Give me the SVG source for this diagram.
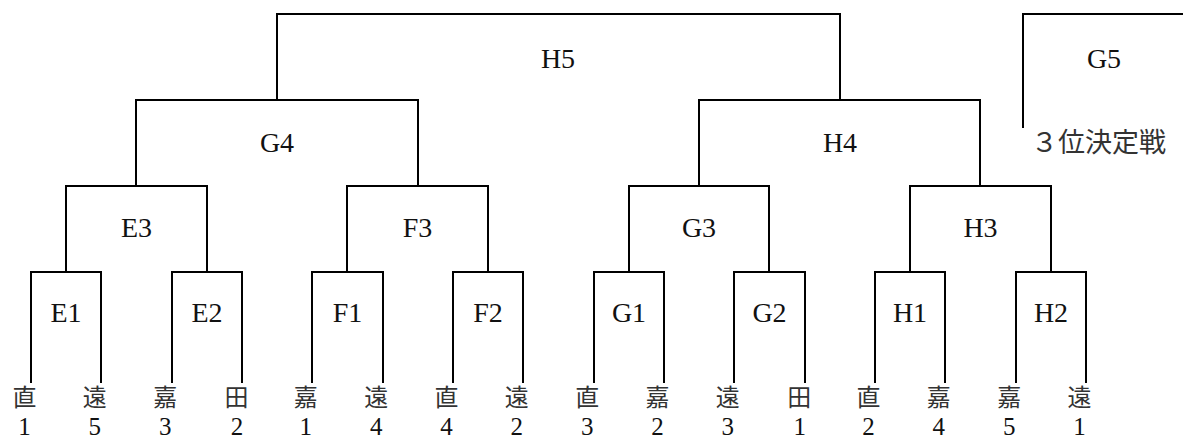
<svg xmlns="http://www.w3.org/2000/svg" width="1183" height="439" viewBox="0 0 1183 439">
<style>
.ln{fill:none;stroke:#000;stroke-width:2;stroke-linejoin:miter}
.lb{font-size:28px;fill:#111;text-anchor:middle}
.kj{font-size:24px;fill:#333;text-anchor:middle}
.nm{font-size:25px;fill:#111;text-anchor:middle}
.tp{font-size:27px;fill:#333}
</style>
<rect width="1183" height="439" fill="#fff"/>
<g id="connectors">
<path class="ln" d="M31 383 V272 H101 V383"/>
<path class="ln" d="M172 383 V272 H242 V383"/>
<path class="ln" d="M312 383 V272 H383 V383"/>
<path class="ln" d="M453 383 V272 H523 V383"/>
<path class="ln" d="M594 383 V272 H664 V383"/>
<path class="ln" d="M734 383 V272 H805 V383"/>
<path class="ln" d="M875 383 V272 H945 V383"/>
<path class="ln" d="M1016 383 V272 H1086 V383"/>
<path class="ln" d="M66 272 V186 H207 V272"/>
<path class="ln" d="M347 272 V186 H488 V272"/>
<path class="ln" d="M629 272 V186 H769 V272"/>
<path class="ln" d="M910 272 V186 H1051 V272"/>
<path class="ln" d="M136 186 V100 H418 V186"/>
<path class="ln" d="M699 186 V100 H980 V186"/>
<path class="ln" d="M277 100 V14 H840 V100"/>
<path class="ln" d="M1023 128 V14 H1184"/>
</g>
<g font-family="Liberation Serif, DejaVu Serif, serif">
<g id="node-H5"><text class="lb" x="558" y="68">H5</text></g>
<g id="node-G5"><text class="lb" x="1104" y="68">G5</text><text class="tp" x="1031" y="152" font-family="Noto Sans CJK JP, sans-serif">３位決定戦</text></g>
<g id="node-G4"><text class="lb" x="277" y="152">G4</text></g>
<g id="node-H4"><text class="lb" x="840" y="152">H4</text></g>
<g id="node-E3"><text class="lb" x="136.5" y="237">E3</text></g>
<g id="node-F3"><text class="lb" x="417.5" y="237">F3</text></g>
<g id="node-G3"><text class="lb" x="699" y="237">G3</text></g>
<g id="node-H3"><text class="lb" x="980.5" y="237">H3</text></g>
<g id="node-E1"><text class="lb" x="66" y="322">E1</text></g>
<g id="node-E2"><text class="lb" x="207" y="322">E2</text></g>
<g id="node-F1"><text class="lb" x="347.5" y="322">F1</text></g>
<g id="node-F2"><text class="lb" x="488" y="322">F2</text></g>
<g id="node-G1"><text class="lb" x="629" y="322">G1</text></g>
<g id="node-G2"><text class="lb" x="769.5" y="322">G2</text></g>
<g id="node-H1"><text class="lb" x="910" y="322">H1</text></g>
<g id="node-H2"><text class="lb" x="1051" y="322">H2</text></g>
</g>
<g id="leaves">
<g font-family="Noto Sans CJK JP, Noto Sans CJK SC, sans-serif" class="kj">
<text id="leaf-1" x="24.5" y="406">直</text>
<text id="leaf-2" x="94.8" y="406">遠</text>
<text id="leaf-3" x="165.2" y="406">嘉</text>
<text id="leaf-4" x="236.5" y="406">田</text>
<text id="leaf-5" x="305.8" y="406">嘉</text>
<text id="leaf-6" x="376.2" y="406">遠</text>
<text id="leaf-7" x="446.5" y="406">直</text>
<text id="leaf-8" x="516.8" y="406">遠</text>
<text id="leaf-9" x="587.2" y="406">直</text>
<text id="leaf-10" x="657.5" y="406">嘉</text>
<text id="leaf-11" x="727.8" y="406">遠</text>
<text id="leaf-12" x="799.2" y="406">田</text>
<text id="leaf-13" x="868.5" y="406">直</text>
<text id="leaf-14" x="938.8" y="406">嘉</text>
<text id="leaf-15" x="1009.2" y="406">嘉</text>
<text id="leaf-16" x="1079.5" y="406">遠</text>
</g>
<g font-family="Liberation Serif, DejaVu Serif, serif" class="nm">
<text x="24.5" y="435">1</text>
<text x="94.8" y="435">5</text>
<text x="165.2" y="435">3</text>
<text x="237" y="435">2</text>
<text x="305.8" y="435">1</text>
<text x="376.2" y="435">4</text>
<text x="446.5" y="435">4</text>
<text x="516.8" y="435">2</text>
<text x="587.2" y="435">3</text>
<text x="657.5" y="435">2</text>
<text x="727.8" y="435">3</text>
<text x="799.7" y="435">1</text>
<text x="868.5" y="435">2</text>
<text x="938.8" y="435">4</text>
<text x="1009.2" y="435">5</text>
<text x="1079.5" y="435">1</text>
</g>
</g>
</svg>
